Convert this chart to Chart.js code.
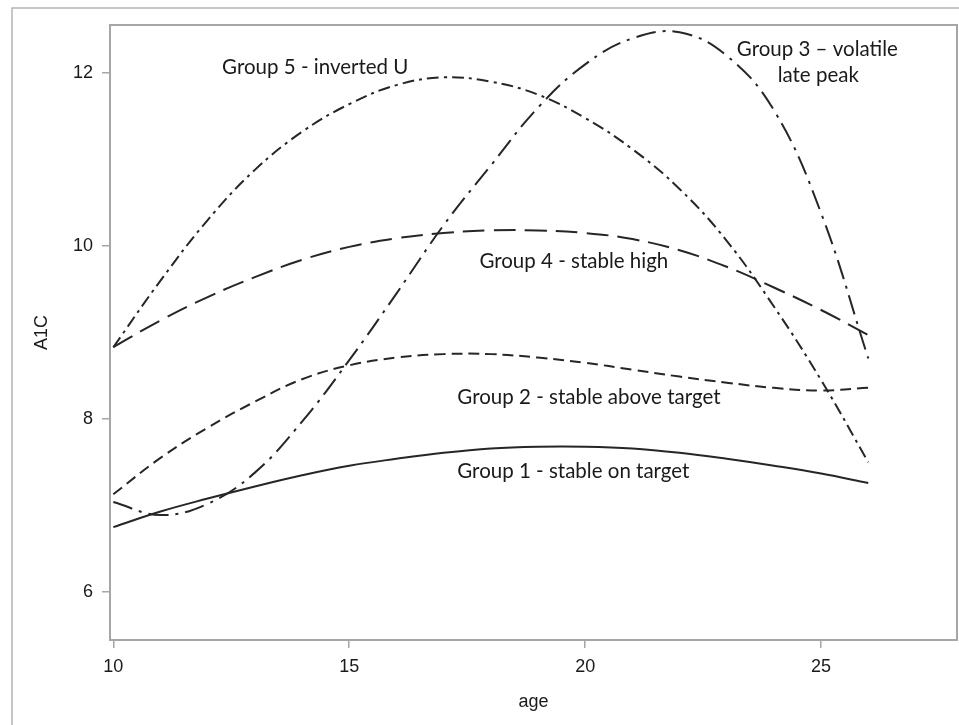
<!DOCTYPE html>
<html>
<head>
<meta charset="utf-8">
<script src="https://cdn.jsdelivr.net/npm/chart.js@4"></script>
<style>
    html, body { margin: 0; padding: 0; background: #fff; }
    #wrap { width: 959px; height: 725px; }
</style>
</head>
<body>
<div id="wrap"><canvas id="a1cChart" width="959" height="725"></canvas></div>
<script>
    // ages on the x axis
    const ages = [10, 11, 12, 13, 14, 15, 16, 17, 18, 19, 20, 21, 22, 23, 24, 25, 26];

    // A1C values per trajectory group
    const group1 = [6.75, 6.93, 7.08, 7.22, 7.35, 7.46, 7.54, 7.61, 7.66, 7.68, 7.68, 7.66, 7.61, 7.54, 7.46, 7.37, 7.26];
    const group2 = [7.13, 7.55, 7.90, 8.20, 8.46, 8.62, 8.71, 8.75, 8.75, 8.71, 8.65, 8.57, 8.49, 8.42, 8.36, 8.33, 8.36];
    const group3 = [7.04, 6.89, 7.02, 7.38, 7.97, 8.68, 9.45, 10.24, 10.93, 11.60, 12.10, 12.40, 12.47, 12.20, 11.57, 10.38, 8.70];
    const group4 = [8.83, 9.14, 9.41, 9.64, 9.84, 9.99, 10.09, 10.15, 10.18, 10.18, 10.15, 10.08, 9.95, 9.76, 9.52, 9.26, 8.97];
    const group5 = [8.83, 9.60, 10.30, 10.88, 11.32, 11.64, 11.86, 11.95, 11.90, 11.75, 11.48, 11.12, 10.66, 10.06, 9.30, 8.45, 7.50];

    const xTicks = [10, 15, 20, 25];
    const yTicks = [6, 8, 10, 12];

    // curve labels, placed in data units (age, A1C)
    const groupLabels = ['Group 1 - stable on target', 'Group 2 - stable above target', 'Group 3 \u2013 volatile', 'late peak', 'Group 4 - stable high', 'Group 5 - inverted U'];
    const labelAges = [19.75, 20.08, 24.92, 24.94, 19.76, 14.28];
    const labelA1c = [7.39, 8.25, 12.27, 11.97, 9.82, 12.06];

    const ink = '#262626';
    const frameGray = '#a6a6a6';

    function toPoints(values) {
        return ages.map((a, i) => ({ x: a, y: values[i] }));
    }

    function lineSet(values, dash) {
        return {
            data: toPoints(values),
            borderColor: ink,
            borderWidth: 2,
            borderDash: dash,
            pointRadius: 0,
            tension: 0.4,
            fill: false
        };
    }

    // outer frame, plot box and curve labels
    const decorations = {
        id: 'decorations',
        beforeDraw(chart) {
            const ctx = chart.ctx;
            ctx.save();
            ctx.fillStyle = '#fff';
            ctx.fillRect(0, 0, chart.width, chart.height);
            ctx.strokeStyle = '#b4b4b4';
            ctx.lineWidth = 1.5;
            ctx.beginPath();
            ctx.moveTo(12, chart.height);
            ctx.lineTo(12, 8);
            ctx.lineTo(chart.width, 8);
            ctx.stroke();
            ctx.restore();
        },
        afterDatasetsDraw(chart) {
            const ctx = chart.ctx;
            const area = chart.chartArea;
            const xs = chart.scales.x;
            const ys = chart.scales.y;
            ctx.save();
            ctx.strokeStyle = frameGray;
            ctx.lineWidth = 2;
            ctx.strokeRect(area.left, area.top, area.right - area.left, area.bottom - area.top);

            ctx.fillStyle = '#1a1a1a';
            ctx.font = '20.5px Lato, "Open Sans", sans-serif';
            ctx.textAlign = 'center';
            ctx.textBaseline = 'middle';
            groupLabels.forEach((txt, i) => {
                ctx.fillText(txt, xs.getPixelForValue(labelAges[i]), ys.getPixelForValue(labelA1c[i]));
            });
            ctx.restore();
        }
    };

    const axisFont = { family: '"Liberation Sans", Arial, sans-serif', size: 18 };

    new Chart(document.getElementById('a1cChart'), {
        type: 'line',
        data: {
            datasets: [
                lineSet(group1, []),
                lineSet(group2, [11, 6]),
                lineSet(group3, [20, 7, 3, 7]),
                lineSet(group4, [22, 9]),
                lineSet(group5, [12, 5, 3, 5])
            ]
        },
        options: {
            responsive: false,
            animation: false,
            layout: { padding: { top: 25, right: 2, left: 0, bottom: 0 } },
            plugins: {
                legend: { display: false },
                tooltip: { enabled: false }
            },
            scales: {
                x: {
                    type: 'linear',
                    min: 9.93,
                    max: 27.88,
                    afterFit(scale) { scale.height = 85; },
                    afterBuildTicks(scale) { scale.ticks = xTicks.map(v => ({ value: v })); },
                    ticks: { color: '#1a1a1a', font: axisFont, padding: 8, maxRotation: 0 },
                    grid: { drawOnChartArea: false, drawTicks: true, tickLength: 8, color: frameGray, lineWidth: 1.5 },
                    border: { display: false },
                    title: {
                        display: true,
                        text: 'age',
                        color: '#1a1a1a',
                        font: axisFont,
                        padding: { top: 4, bottom: 12 }
                    }
                },
                y: {
                    type: 'linear',
                    min: 5.445,
                    max: 12.555,
                    afterFit(scale) { scale.width = 110; },
                    afterBuildTicks(scale) { scale.ticks = yTicks.map(v => ({ value: v })); },
                    ticks: { color: '#1a1a1a', font: axisFont, padding: 9 },
                    grid: { drawOnChartArea: false, drawTicks: true, tickLength: 8, color: frameGray, lineWidth: 1.5 },
                    border: { display: false },
                    title: {
                        display: true,
                        text: 'A1C',
                        color: '#1a1a1a',
                        font: axisFont,
                        padding: { top: 31, bottom: 0 }
                    }
                }
            }
        },
        plugins: [decorations]
    });
</script>
</body>
</html>
